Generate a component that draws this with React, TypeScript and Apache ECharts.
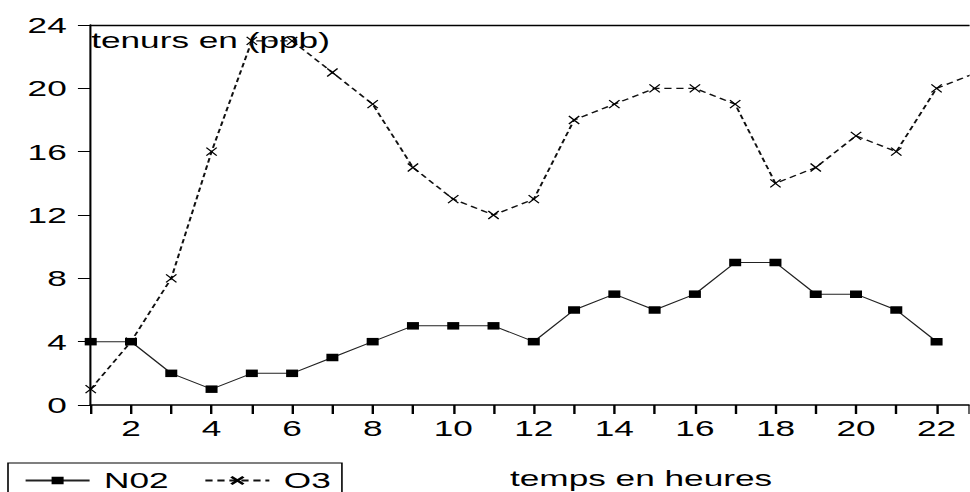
import React, { useEffect, useRef } from 'react';
import * as echarts from 'echarts';

// Data
const hours = [1, 2, 3, 4, 5, 6, 7, 8, 9, 10, 11, 12, 13, 14, 15, 16, 17, 18, 19, 20, 21, 22, 23];
const no2Values = [4, 4, 2, 1, 2, 2, 3, 4, 5, 5, 5, 4, 6, 7, 6, 7, 9, 9, 7, 7, 6, 4];
const o3Values = [1, 4, 8, 16, 23, 23, 21, 19, 15, 13, 12, 13, 18, 19, 20, 20, 19, 14, 15, 17, 16, 20, 21];
const seriesNames = ['N02', 'O3'];
const yTitle = 'tenurs en (ppb)';
const xTitle = 'temps en heures';

// the original picture is stretched horizontally
const SX = 1.6;
const W = 970 / SX;

export default function App() {
  const ref = useRef<HTMLDivElement>(null);
  useEffect(() => {
    document.body.style.margin = '0';
    const chart = echarts.init(ref.current!, null, { renderer: 'svg' });
    const font = "'Liberation Sans', Arial, sans-serif";
    chart.setOption({
      animation: false,
      backgroundColor: '#fff',
      grid: {
        left: 56.7,
        right: 0,
        top: 25,
        bottom: 87,
        outerBoundsMode: 'none',
      },
      xAxis: [
        {
          type: 'value',
          min: 1,
          max: 22.82,
          interval: 1,
          axisLine: { lineStyle: { color: '#000', width: 1.5 } },
          axisTick: { length: 9, lineStyle: { color: '#000', width: 1.5 } },
          axisLabel: {
            formatter: (v: number) => (v % 2 === 0 ? String(v) : ''),
            color: '#000',
            fontSize: 22,
            fontFamily: font,
            margin: 12,
          },
          splitLine: { show: false },
        },
        {
          type: 'value',
          position: 'top',
          min: 1,
          max: 22.82,
          interval: 1,
          axisLine: { show: true, lineStyle: { color: '#000', width: 1.3 } },
          axisTick: { show: false },
          axisLabel: { show: false },
          splitLine: { show: false },
        },
      ],
      yAxis: {
        type: 'value',
        min: 0,
        max: 24,
        interval: 4,
        axisLine: { show: true, lineStyle: { color: '#000', width: 1.3 } },
        axisTick: { show: true, length: 8, lineStyle: { color: '#000', width: 1 } },
        axisLabel: { color: '#000', fontSize: 22, fontFamily: font, margin: 15 },
        splitLine: { show: false },
      },
      legend: {
        left: 5,
        top: 463,
        orient: 'horizontal',
        padding: [6.5, 7, 20, 10],
        itemWidth: 40,
        itemHeight: 9.4,
        itemGap: 22,
        borderColor: '#000',
        borderWidth: 1,
        textStyle: { fontSize: 22, lineHeight: 19, color: '#000', fontFamily: font, padding: [0, 0, 0, 4] },
        data: seriesNames,
      },
      graphic: [
        {
          type: 'text',
          x: 57,
          y: 40.5,
          style: { text: yTitle, fontSize: 22, fontFamily: font, fill: '#000', verticalAlign: 'middle' },
        },
        {
          type: 'text',
          x: 318.75,
          y: 478,
          style: { text: xTitle, fontSize: 22, fontFamily: font, fill: '#000', verticalAlign: 'middle' },
        },
      ],
      series: [
        {
          name: seriesNames[0],
          type: 'line',
          xAxisIndex: 0,
          data: no2Values.map((v, i) => [hours[i], v]),
          symbol: 'rect',
          symbolSize: 7.5,
          showAllSymbol: true,
          itemStyle: { color: '#000' },
          lineStyle: { color: '#222', width: 1 },
        },
        {
          name: seriesNames[1],
          type: 'line',
          xAxisIndex: 0,
          data: o3Values.map((v, i) => [hours[i], v]),
          symbol: 'path://M0 0L10 10M10 0L0 10',
          symbolSize: [6.5, 8],
          showAllSymbol: true,
          itemStyle: { color: 'none', borderColor: '#000', borderWidth: 1 },
          lineStyle: { color: '#111', width: 1.3, type: [4.5, 3] },
        },
      ],
    });
    return () => chart.dispose();
  }, []);
  return (
    <div
      ref={ref}
      style={{
        position: 'absolute',
        left: 0,
        top: 0,
        width: W,
        height: 492,
        transform: `scaleX(${SX})`,
        transformOrigin: '0 0',
      }}
    />
  );
}
